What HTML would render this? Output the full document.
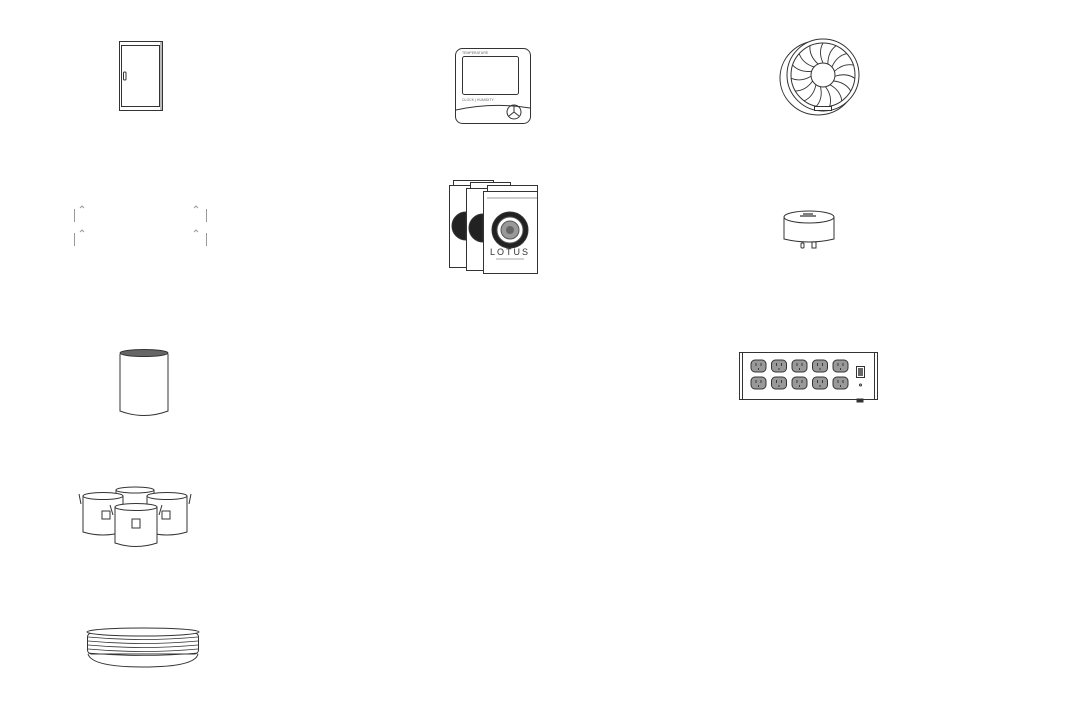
<!DOCTYPE html>
<html><head><meta charset="utf-8"><style>html,body{margin:0;padding:0;background:#fff}svg{display:block}</style></head>
<body>
<svg width="1080" height="703" viewBox="0 0 1080 703" xmlns="http://www.w3.org/2000/svg" fill="none" stroke="#333" stroke-width="1">
<!-- cabinet -->
<rect x="119.5" y="41.5" width="43" height="69" fill="#fff"/>
<rect x="121.5" y="45.5" width="38" height="61"/>
<line x1="161" y1="42" x2="161" y2="110" stroke="#bbb" stroke-width="2"/>
<rect x="123.5" y="72" width="2.5" height="8" rx="1"/>
<!-- level marks -->
<g stroke="#999">
<line x1="74.5" y1="209" x2="74.5" y2="222"/><line x1="206.5" y1="209" x2="206.5" y2="222"/>
<line x1="74.5" y1="233" x2="74.5" y2="246"/><line x1="206.5" y1="233" x2="206.5" y2="246"/>
<path d="M80 208 l2-2 l2 2 M80 232 l2-2 l2 2 M194 208 l2-2 l2 2 M194 232 l2-2 l2 2"/>
</g>
<!-- bucket -->
<path d="M120 354 V411 Q144 420 168 411 V354" fill="#fff"/>
<ellipse cx="144" cy="353" rx="24" ry="3.5" fill="#666"/>
<!-- pots -->
<g fill="#fff">
<path d="M116 490 V520 Q135 526 154 520 V490 Z"/>
<ellipse cx="135" cy="490" rx="19" ry="3"/>
<path d="M83 496 V532 Q103 538 123 532 V496 Z"/>
<ellipse cx="103" cy="496" rx="20" ry="3.5"/>
<path d="M147 496 V532 Q167 538 187 532 V496 Z"/>
<ellipse cx="167" cy="496" rx="20" ry="3.5"/>
<rect x="102" y="511" width="8" height="8"/><rect x="162" y="511" width="8" height="8"/>
<path d="M115 507 V543 Q136 550 157 543 V507 Z"/>
<ellipse cx="136" cy="507" rx="21" ry="3.5"/>
<rect x="132" y="519" width="8" height="9"/>
<path d="M79 494 l2 10 M191 494 l-2 10 M110 505 l3 10 M162 505 l-3 10"/>
</g>
<!-- plates -->
<path d="M88 654 Q92 667 143 667 Q195 667 198 654" fill="#fff"/>
<g fill="#fff">
<rect x="87.5" y="633" width="111" height="21" rx="4"/>
<ellipse cx="143" cy="632" rx="56" ry="4"/>
</g>
<path d="M88 637 Q143 642 198 637 M88 641 Q143 646 198 641 M88 645 Q143 650 198 645 M88 649 Q143 654 198 649 M88 653 Q143 658 198 653" stroke-width=".8"/>
<!-- thermometer -->
<rect x="455.5" y="48.5" width="75" height="75" rx="7" fill="#fff"/>
<rect x="462.5" y="56.5" width="56" height="38" rx="2"/>
<path d="M456 110 Q493 102 530 108"/>
<circle cx="514" cy="112" r="7"/>
<path d="M514 112 v-6 M514 112 l5 4 M514 112 l-5 4"/>
<text x="462" y="54" font-family="Liberation Sans" font-size="3.5" fill="#666" stroke="none">TEMPERATURE</text>
<text x="462" y="101" font-family="Liberation Sans" font-size="3.5" fill="#666" stroke="none">CLOCK | HUMIDITY</text>
<!-- bags -->
<g fill="#fff">
<rect x="453.5" y="180.5" width="40" height="86"/>
<rect x="449.5" y="185.5" width="40" height="82"/>
</g>
<path d="M466 212 a14 14 0 0 0 0 28 Z" fill="#222"/>
<g fill="#fff">
<rect x="470.5" y="182.5" width="40" height="86"/>
<rect x="466.5" y="188.5" width="40" height="82"/>
</g>
<path d="M483 214 a14 14 0 0 0 0 28 Z" fill="#222"/>
<g fill="#fff">
<rect x="487.5" y="185.5" width="50" height="87"/>
<rect x="483.5" y="191.5" width="54" height="82"/>
</g>
<line x1="487" y1="198" x2="537" y2="198" stroke="#999"/>
<circle cx="510" cy="230" r="18" fill="#222"/>
<circle cx="510" cy="230" r="13" fill="#fff" stroke="#555"/>
<circle cx="510" cy="230" r="9" fill="#999" stroke="#555"/>
<circle cx="510" cy="230" r="4" fill="#666" stroke="none"/>
<text x="510" y="255" text-anchor="middle" font-family="Liberation Sans" font-size="9" letter-spacing="2" fill="#333" stroke="none">LOTUS</text>
<line x1="496" y1="259" x2="524" y2="259" stroke="#aaa"/>
<!-- fan -->
<g>
<ellipse cx="818" cy="78" rx="38" ry="37" fill="#fff"/>
<circle cx="823" cy="75" r="36" fill="#fff"/>
<circle cx="823" cy="75" r="32"/>
<circle cx="823" cy="75" r="12" fill="#fff"/>
<g stroke-width=".9">
<path d="M823 63 Q818 52 823 43" /><path d="M823 63 Q818 52 823 43" transform="rotate(24 823 75)"/>
<path d="M823 63 Q818 52 823 43" transform="rotate(48 823 75)"/><path d="M823 63 Q818 52 823 43" transform="rotate(72 823 75)"/>
<path d="M823 63 Q818 52 823 43" transform="rotate(96 823 75)"/><path d="M823 63 Q818 52 823 43" transform="rotate(120 823 75)"/>
<path d="M823 63 Q818 52 823 43" transform="rotate(144 823 75)"/><path d="M823 63 Q818 52 823 43" transform="rotate(168 823 75)"/>
<path d="M823 63 Q818 52 823 43" transform="rotate(192 823 75)"/><path d="M823 63 Q818 52 823 43" transform="rotate(216 823 75)"/>
<path d="M823 63 Q818 52 823 43" transform="rotate(240 823 75)"/><path d="M823 63 Q818 52 823 43" transform="rotate(264 823 75)"/>
<path d="M823 63 Q818 52 823 43" transform="rotate(288 823 75)"/><path d="M823 63 Q818 52 823 43" transform="rotate(312 823 75)"/>
<path d="M823 63 Q818 52 823 43" transform="rotate(336 823 75)"/>
</g>
<rect x="814.5" y="106.5" width="17" height="4" fill="#fff"/>
</g>
<!-- plug -->
<path d="M784 218 V239 Q809 245 834 239 V218" fill="#fff"/>
<ellipse cx="809" cy="217" rx="25" ry="6" fill="#fff"/>
<path d="M800 216 h16 M803 214 h10" stroke-width="1.2"/>
<rect x="801" y="243" width="3" height="5" rx="1"/><rect x="812" y="242" width="4" height="6"/>
<!-- power strip -->
<rect x="739.5" y="352.5" width="138" height="47" fill="#fff"/>
<line x1="742.5" y1="353" x2="742.5" y2="399"/><line x1="874.5" y1="353" x2="874.5" y2="399"/>
<g fill="#999" stroke="#333">
<rect x="751" y="360" width="15" height="12" rx="4"/><rect x="771.5" y="360" width="15" height="12" rx="4"/><rect x="792" y="360" width="15" height="12" rx="4"/><rect x="812.5" y="360" width="15" height="12" rx="4"/><rect x="833" y="360" width="15" height="12" rx="4"/>
<rect x="751" y="377" width="15" height="12" rx="4"/><rect x="771.5" y="377" width="15" height="12" rx="4"/><rect x="792" y="377" width="15" height="12" rx="4"/><rect x="812.5" y="377" width="15" height="12" rx="4"/><rect x="833" y="377" width="15" height="12" rx="4"/>
</g>
<g stroke="#222" stroke-width=".8">
<path d="M756 363v3M761 363v3M758.5 368v2 M776.5 363v3M781.5 363v3M779 368v2 M797 363v3M802 363v3M799.5 368v2 M817.5 363v3M822.5 363v3M820 368v2 M838 363v3M843 363v3M840.5 368v2"/>
<path d="M756 380v3M761 380v3M758.5 385v2 M776.5 380v3M781.5 380v3M779 385v2 M797 380v3M802 380v3M799.5 385v2 M817.5 380v3M822.5 380v3M820 385v2 M838 380v3M843 380v3M840.5 385v2"/>
</g>
<rect x="856.5" y="366.5" width="8" height="11" fill="#fff"/><rect x="858" y="368" width="5" height="8" fill="#666" stroke="none"/>
<circle cx="860.5" cy="385" r="1"/>
<rect x="857" y="399" width="6" height="3" fill="#333"/>
</svg>
</body></html>
